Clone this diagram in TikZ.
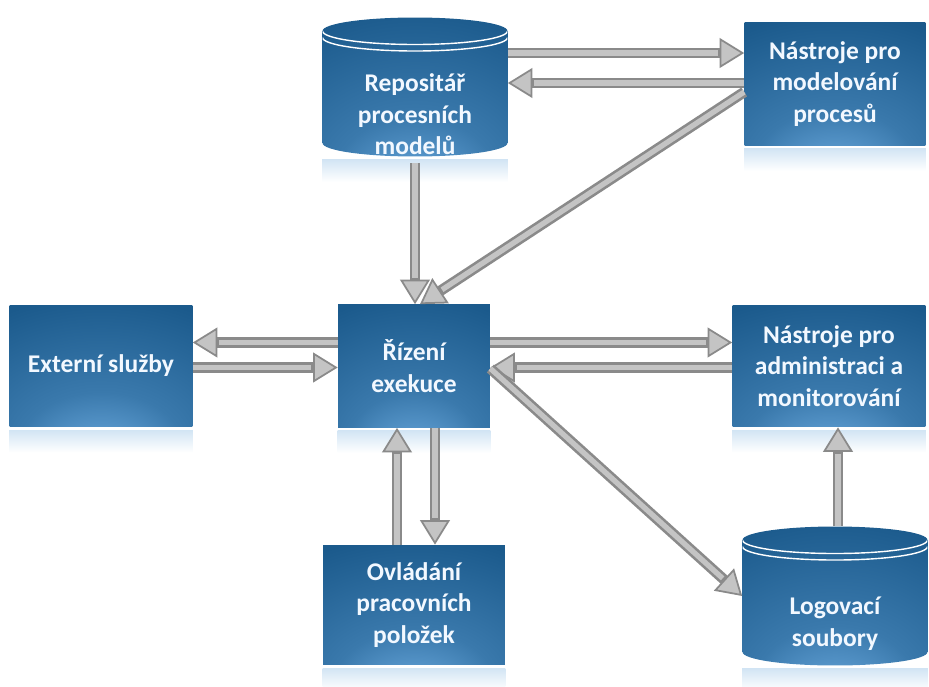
\documentclass[tikz,border=0pt]{standalone}
\usepackage{fontspec}
\setmainfont{Carlito}
\usepackage{xcolor}
\usepackage{tikz}
\usetikzlibrary{
  arrows.meta,
  positioning
}
\definecolor{wfBlue}{HTML}{1B5A8C}
\definecolor{wfGlow}{HTML}{74B3E8}
\definecolor{wfPipe}{HTML}{C4C4C4}
\definecolor{wfEdge}{HTML}{8A8A8A}
\definecolor{wfMirror}{HTML}{D3E5F4}
\definecolor{wfText}{HTML}{F2F8FF}
\pgfdeclareradialshading{wfshade}{\pgfpoint{0bp}{-42bp}}{%
  color(0bp)=(wfGlow); color(22bp)=(wfBlue!65!wfGlow); color(50bp)=(wfBlue); color(100bp)=(wfBlue)}
\newcommand{\wfcapr}{0.27cm}
\newcommand{\wfcapw}{1.85cm}
\tikzset{
  wfnode/.style={
    font=\fontsize{14.5}{18}\selectfont\bfseries, text=wfText, align=center, inner sep=2pt
  },
  wfbox/.style={wfnode, shading=wfshade, minimum height=2.44cm},
  store/.style={
    minimum width=3.7cm, minimum height=2.78cm, inner sep=0pt,
    path picture={
      \shade[shading=wfshade] ([yshift=-\wfcapr]path picture bounding box.north west)
        -- ([yshift=\wfcapr]path picture bounding box.south west)
        arc[start angle=180, end angle=360, x radius=\wfcapw, y radius=\wfcapr]
        -- ([yshift=-\wfcapr]path picture bounding box.north east)
        arc[start angle=0, end angle=180, x radius=\wfcapw, y radius=\wfcapr] -- cycle;
      \draw[white, line width=0.8pt] ([yshift=-\wfcapr]path picture bounding box.north west)
        arc[start angle=180, end angle=360, x radius=\wfcapw, y radius=\wfcapr];
      \draw[white, line width=0.8pt] ([yshift=-\wfcapr-0.13cm]path picture bounding box.north west)
        arc[start angle=180, end angle=360, x radius=\wfcapw, y radius=\wfcapr];
    }
  },
  storetext/.style={wfnode, yshift=-0.55cm},
  mirror/.style={top color=wfMirror, bottom color=white, draw=none},
  link/.style={
    line width=6pt, draw=wfEdge,
    -{Triangle[length=14pt, width=17pt, fill=wfPipe, line width=1pt]},
    postaction={draw=wfPipe, line width=3pt, -, shorten >=15pt}
  }
}

\begin{document}
\begin{tikzpicture}[x=0.02cm, y=-0.02cm]
  \useasboundingbox (0,0) rectangle (929,686);
  \node[store, label={[storetext, name=repo-text]center:Repositář\\procesních\\modelů}] (repo) at (415,87) {};
  \node[wfbox, minimum width=3.62cm, minimum height=2.46cm] (model) at (835,84) {Nástroje pro\\modelování\\procesů};
  \node[wfbox, minimum width=3.66cm] (ext) at (101,366) {Externí služby};
  \node[wfbox, minimum width=3.04cm, minimum height=2.46cm] (exec) at (414,366) {Řízení\\exekuce};
  \node[wfbox, minimum width=3.86cm] (admin) at (829,366) {Nástroje pro\\administraci a\\monitorování};
  \node[wfbox, minimum width=3.64cm, minimum height=2.4cm] (work) at (414,605) {Ovládání\\pracovních\\položek};
  \node[store, label={[storetext, name=logs-text]center:Logovací\\soubory}] (logs) at (835,596) {};

  % soft reflections under the blocks
  \foreach \n in {repo,model,ext,exec,admin,work,logs}{
    \shade[mirror] ([yshift=-.06cm]\n.south west) rectangle ([yshift=-.5cm]\n.south east);
  }

  \draw[link] ([yshift=.68cm]repo.east) -- ([yshift=.68cm]repo.east -| model.west);
  \draw[link] ([yshift=.08cm]repo.east -| model.west) -- ([yshift=.08cm]repo.east);
  \draw[link] ([yshift=-.16cm]model.west) -- ([xshift=.12cm]exec.north);
  \draw[link, shorten <=.12cm] (repo.south) -- (repo.south |- exec.north);
  \draw[link] ([yshift=.47cm]exec.west) -- ([yshift=.47cm]ext.east);
  \draw[link] ([yshift=-.03cm]ext.east) -- ([yshift=-.03cm]exec.west);
  \draw[link] ([yshift=.47cm]exec.east) -- ([yshift=.47cm]admin.west);
  \draw[link] ([yshift=-.03cm]admin.west) -- ([yshift=-.03cm]exec.east);
  \draw[link] ([yshift=-.05cm]exec.east) -- (logs.west);
  \draw[link] ([xshift=-.34cm]work.north) -- ([xshift=-.34cm]exec.south);
  \draw[link] ([xshift=.42cm]exec.south) -- ([xshift=.42cm]work.north);
  \draw[link] ([xshift=.06cm]logs.north) -- ([xshift=.06cm]logs.north |- admin.south);
\end{tikzpicture}
\end{document}
